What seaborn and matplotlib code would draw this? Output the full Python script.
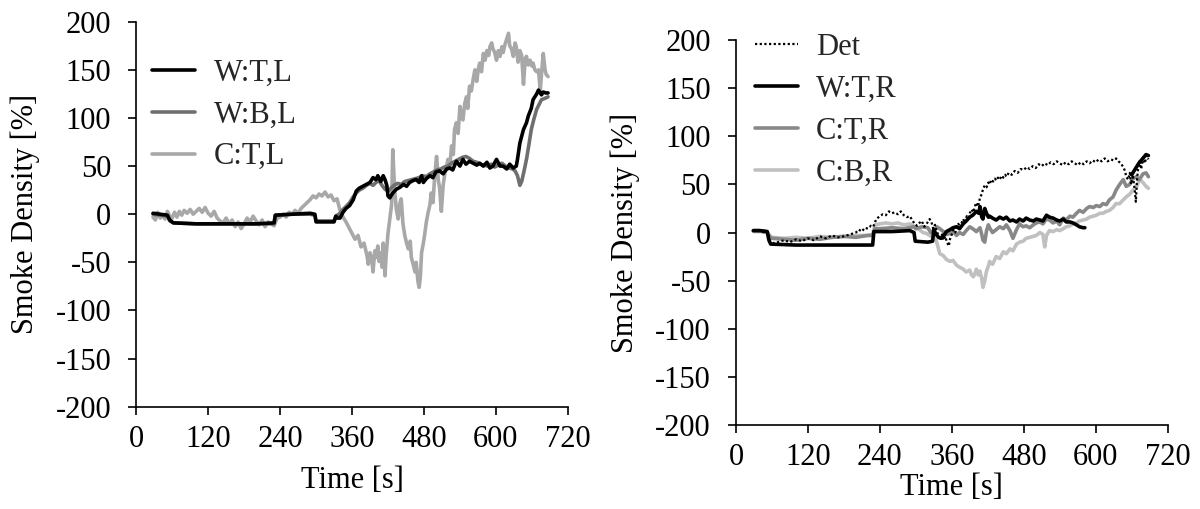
import matplotlib
matplotlib.use("Agg")
import matplotlib.pyplot as plt
import seaborn as sns

# ---------------- data: left panel (L side) ----------------
t_wtl = [28, 40, 52, 56, 62, 100, 150, 200, 230, 232,
         260, 290, 298, 300, 330, 333, 336, 340, 345, 350,
         356, 362, 367, 372, 378, 384, 390, 395, 400, 403,
         408, 412, 415, 418, 420, 423, 428, 434, 440, 446,
         451, 456, 462, 467, 472, 476, 479, 484, 490, 495,
         500, 506, 512, 518, 523, 528, 534, 540, 545, 550,
         556, 562, 568, 573, 579, 585, 590, 595, 601, 607,
         612, 618, 623, 629, 634, 636, 640, 646, 651, 654,
         659, 662, 668, 671, 676, 679, 683, 687]
v_wtl = [1, 0, -1, -6, -9, -10, -10, -10, -9, -1,
         0, 1, 0, -8, -8, -2, -4, -4, 2, 6,
         9, 15, 24, 27, 29, 31, 33, 38, 36, 40,
         34, 40, 36, 30, 19, 17, 22, 26, 28, 31,
         29, 33, 35, 36, 33, 40, 33, 37, 40, 38,
         44, 45, 42, 47, 48, 46, 55, 50, 57, 52,
         55, 53, 51, 53, 50, 54, 48, 50, 57, 50,
         50, 47, 52, 48, 50, 57, 74, 88, 95, 102,
         110, 119, 125, 129, 124, 127, 126, 126]

t_wbl = [28, 40, 52, 56, 62, 100, 150, 200, 230, 232,
         260, 290, 298, 300, 330, 333, 340, 345, 350, 356,
         362, 367, 372, 378, 384, 390, 395, 400, 405, 410,
         415, 420, 425, 430, 436, 442, 448, 454, 460, 466,
         472, 478, 484, 490, 496, 502, 508, 514, 520, 526,
         532, 538, 544, 550, 556, 562, 568, 574, 580, 586,
         592, 598, 604, 610, 616, 622, 628, 632, 636, 640,
         643, 647, 651, 655, 659, 663, 668, 672, 676, 680,
         684, 687]
v_wbl = [0, -1, -2, -7, -9, -10, -10, -10, -10, -1,
         0, 0, -1, -7, -7, -2, 1, 5, 8, 12,
         18, 22, 25, 27, 30, 32, 30, 33, 35, 30,
         26, 24, 27, 30, 32, 31, 34, 35, 36, 37,
         38, 40, 39, 42, 44, 46, 47, 49, 50, 53,
         55, 57, 59, 60, 58, 55, 54, 52, 51, 50,
         52, 49, 51, 53, 50, 48, 47, 45, 40, 30,
         34, 45, 57, 72, 88, 98, 109, 114, 119, 120,
         121, 122]

t_ctl = [28, 32, 36, 40, 44, 48, 52, 56, 60, 64,
         68, 72, 76, 80, 85, 90, 95, 100, 105, 110,
         115, 120, 125, 130, 135, 140, 145, 150, 155, 160,
         165, 170, 175, 180, 185, 190, 195, 200, 205, 210,
         215, 220, 225, 230, 235, 240, 245, 250, 255, 260,
         265, 270, 275, 280, 285, 290, 295, 300, 305, 310,
         315, 320, 325, 330, 335, 340, 345, 350, 355, 360,
         365, 370, 375, 380, 385, 387, 390, 393, 395, 398,
         400, 403, 405, 408, 410, 412, 415, 417, 420, 423,
         426, 428, 431, 434, 437, 440, 442, 445, 448, 451,
         454, 457, 459, 462, 465, 467, 470, 472, 474, 476,
         479, 481, 484, 487, 490, 492, 495, 498, 501, 504,
         506, 509, 512, 515, 518, 520, 523, 526, 529, 531,
         534, 537, 540, 543, 545, 548, 551, 553, 556, 559,
         562, 565, 568, 571, 573, 576, 579, 582, 585, 588,
         590, 593, 595, 598, 601, 604, 607, 610, 612, 615,
         618, 621, 623, 626, 629, 632, 634, 637, 640, 643,
         646, 649, 651, 654, 657, 660, 662, 665, 668, 671,
         674, 676, 679, 682, 684, 687]
v_ctl = [-3, -6, 2, -4, -1, -5, 3, -2, -4, 2,
         -3, 3, -1, 4, 1, 5, 0, 3, 6, 2,
         7, 1, -2, 3, -4, -7, -9, -4, -10, -6,
         -13, -8, -15, -10, -4, -8, -2, -7, -11, -6,
         -13, -8, -10, -12, -4, -3, 0, -3, 2, 0,
         4, 1, 6, 9, 12, 15, 19, 17, 21, 19,
         23, 18, 20, 14, 16, 4, -3, -8, -14, -20,
         -26, -22, -34, -30, -43, -52, -40, -47, -60, -38,
         -45, -33, -49, -40, -55, -30, -64, -42, -20, -5,
         10, 67, 25, 5, -5, 12, 16, -10, -22, -30,
         -36, -28, -45, -52, -60, -50, -70, -76, -65, -40,
         -30, -22, -8, 2, 10, 22, 12, 40, 60, 35,
         28, 3, 30, 43, 50, 57, 48, 71, 62, 88,
         95, 84, 112, 100, 98, 115, 122, 110, 133, 128,
         140, 150, 138, 152, 157, 148, 167, 160, 170, 165,
         174, 178, 172, 168, 160, 170, 164, 174, 168, 176,
         182, 188, 175, 172, 164, 178, 174, 158, 170, 165,
         135, 162, 164, 155, 160, 154, 157, 150, 148, 150,
         129, 145, 167, 150, 145, 143]

# ---------------- data: right panel (R side) ----------------
t_det = [29, 35, 41, 47, 53, 57, 62, 70, 80, 90,
         100, 110, 120, 130, 140, 150, 160, 170, 180, 190,
         200, 205, 210, 215, 220, 225, 229, 234, 240, 245,
         250, 255, 260, 265, 270, 275, 280, 285, 290, 295,
         298, 302, 306, 310, 314, 318, 323, 326, 329, 332,
         335, 338, 341, 344, 346, 349, 352, 355, 357, 360,
         363, 366, 368, 371, 374, 377, 379, 382, 385, 388,
         390, 393, 396, 399, 401, 404, 407, 410, 412, 415,
         418, 421, 423, 426, 429, 432, 434, 437, 440, 443,
         446, 449, 451, 455, 460, 465, 470, 475, 480, 485,
         490, 495, 500, 505, 510, 515, 520, 525, 530, 535,
         540, 545, 550, 555, 560, 565, 570, 575, 580, 585,
         590, 595, 600, 605, 610, 615, 620, 625, 630, 634,
         638, 642, 646, 649, 651, 654, 657, 659, 662, 665,
         667, 669, 671, 673, 676, 679, 682, 685, 688]
v_det = [2, 1, 2, 0, 1, -9, -11, -10, -8, -10,
         -7, -9, -6, -8, -4, -6, -3, -5, -4, -2,
         0, 3, 1, 5, 4, 7, 6, 14, 17, 19,
         18, 22, 20, 21, 19, 22, 18, 16, 17, 12,
         9, 7, 10, 12, 6, 9, 14, 11, 4, 8,
         1, -3, -6, -2, -8, -4, -10, -14, -7, -2,
         3, 0, 6, 9, 5, 11, 14, 10, 17, 15,
         20, 24, 21, 28, 31, 27, 36, 40, 45, 49,
         47, 52, 50, 55, 53, 56, 54, 57, 55, 59,
         57, 60, 58, 62, 60, 64, 62, 66, 65, 68,
         66, 69, 67, 71, 69, 72, 70, 73, 71, 74,
         72, 70, 73, 71, 74, 72, 70, 73, 71, 74,
         72, 75, 73, 76, 74, 77, 74, 76, 75, 77,
         74, 72, 68, 64, 58, 55, 62, 50, 60, 45,
         32, 55, 68, 74, 66, 78, 72, 80, 76]

t_wtr = [29, 40, 52, 55, 58, 100, 150, 200, 228, 230,
         260, 290, 297, 299, 320, 328, 330, 334, 338, 342,
         346, 351, 357, 362, 368, 373, 379, 384, 390, 395,
         401, 405, 407, 410, 412, 415, 418, 421, 423, 428,
         434, 440, 446, 451, 457, 462, 468, 473, 479, 484,
         490, 496, 501, 507, 512, 518, 523, 529, 535, 540,
         546, 551, 557, 562, 568, 573, 579, 582]
v_wtr = [2, 2, 1, -8, -12, -13, -13, -13, -13, 1,
         1, 2, 0, -9, -10, -9, 3, -2, -5, -6,
         -4, 1, 3, 5, 6, 4, 9, 12, 16, 18,
         22, 20, 27, 16, 14, 25, 20, 16, 17, 15,
         13, 16, 14, 16, 12, 13, 11, 14, 12, 15,
         13, 12, 14, 13, 12, 18, 16, 15, 13, 12,
         14, 11, 11, 10, 8, 6, 5, 5]
# late readings of the same sensor
t_wtr_late = [660, 664, 668, 672, 676, 680, 684, 688]
v_wtr_late = [60, 64, 68, 72, 75, 78, 81, 80]

t_ctr = [29, 40, 52, 56, 60, 80, 100, 120, 140, 160,
         180, 200, 220, 228, 232, 240, 260, 280, 297, 300,
         310, 320, 325, 330, 335, 340, 346, 351, 357, 362,
         368, 373, 379, 384, 390, 395, 401, 407, 410, 412,
         415, 418, 421, 423, 428, 434, 440, 446, 451, 457,
         462, 468, 473, 479, 484, 490, 496, 501, 507, 512,
         518, 523, 529, 535, 540, 546, 551, 557, 562, 568,
         573, 579, 585, 590, 596, 601, 607, 612, 618, 623,
         629, 634, 640, 646, 651, 657, 662, 668, 673, 679,
         684, 688]
v_ctr = [2, 2, 1, -4, -6, -7, -8, -6, -7, -5,
         -4, -5, -3, -3, 4, 4, 5, 4, 6, 4,
         6, 5, 0, 2, 6, 4, 1, -2, -1, 1,
         -3, 0, -2, 2, 6, 4, 1, 5, -2, -8,
         -10, 2, 8, 5, 0, 3, 6, 4, 8, 2,
         -6, 3, 9, 6, 7, 5, 8, 10, 11, 9,
         14, 13, 10, 12, 8, 15, 13, 17, 16, 20,
         23, 21, 25, 27, 26, 28, 27, 30, 29, 34,
         37, 44, 50, 55, 48, 50, 56, 58, 55, 61,
         62, 58]

t_cbr = [29, 40, 52, 56, 60, 80, 100, 120, 140, 160,
         180, 200, 220, 228, 232, 240, 250, 260, 270, 280,
         290, 296, 300, 306, 312, 318, 323, 329, 334, 337,
         340, 346, 351, 357, 362, 368, 373, 379, 384, 390,
         393, 396, 399, 401, 404, 407, 410, 412, 415, 418,
         421, 423, 428, 434, 440, 446, 451, 457, 462, 468,
         473, 479, 484, 490, 496, 501, 507, 512, 515, 518,
         523, 529, 535, 540, 546, 551, 557, 562, 568, 573,
         579, 585, 590, 596, 601, 607, 612, 618, 623, 629,
         634, 640, 646, 651, 657, 662, 668, 673, 679, 684,
         688]
v_cbr = [1, 1, 0, -3, -5, -6, -5, -6, -4, -5,
         -4, -3, -3, -2, 8, 9, 10, 9, 10, 8,
         9, 7, 5, 3, 0, -1, -3, -5, -8, -15,
         -22, -24, -28, -30, -29, -34, -36, -38, -41, -39,
         -44, -46, -42, -38, -44, -40, -48, -57, -50, -40,
         -35, -30, -33, -25, -27, -20, -22, -17, -19, -12,
         -10, -9, -6, -5, -4, -3, 0, -2, -15, -3,
         2, 1, 3, 2, 4, 6, 7, 9, 10, 12,
         13, 14, 16, 17, 18, 20, 20, 22, 23, 26,
         30, 30, 34, 37, 40, 44, 47, 55, 52, 48,
         46]

x_ticks = [0, 120, 240, 360, 480, 600, 720]
y_ticks = [-200, -150, -100, -50, 0, 50, 100, 150, 200]

# ---------------- styling ----------------
sns.set_theme(style="ticks")
plt.rcParams["font.family"] = ["Liberation Serif", "DejaVu Serif"]
plt.rcParams["axes.linewidth"] = 1.2
FS = 22

fig = plt.figure(figsize=(12, 5.09), dpi=100)
ax_l = fig.add_axes([0.1135, 0.201, 0.3597, 0.7563])
ax_r = fig.add_axes([0.6133, 0.165, 0.3597, 0.7563])

LW = 2.6
c_black = "#000000"
c_dark = "#6f6f6f"
c_mid = "#888888"
c_light = "#a8a8a8"
c_pale = "#c0c0c0"

# left panel
sns.lineplot(x=t_ctl, y=v_ctl, ax=ax_l, color=c_light, linewidth=LW, label="C:T,L")
sns.lineplot(x=t_wbl, y=v_wbl, ax=ax_l, color=c_dark, linewidth=LW, label="W:B,L")
sns.lineplot(x=t_wtl, y=v_wtl, ax=ax_l, color=c_black, linewidth=LW, label="W:T,L")

# right panel
sns.lineplot(x=t_cbr, y=v_cbr, ax=ax_r, color=c_pale, linewidth=LW, label="C:B,R")
sns.lineplot(x=t_ctr, y=v_ctr, ax=ax_r, color=c_mid, linewidth=LW, label="C:T,R")
sns.lineplot(x=t_wtr, y=v_wtr, ax=ax_r, color=c_black, linewidth=LW, label="W:T,R")
sns.lineplot(x=t_wtr_late, y=v_wtr_late, ax=ax_r, color=c_black, linewidth=LW)
sns.lineplot(x=t_det, y=v_det, ax=ax_r, color=c_black, linewidth=1.6,
             linestyle=(0, (1, 1.1)), label="Det")

for ax in (ax_l, ax_r):
    ax.set_xlim(0, 720)
    ax.set_ylim(-200, 200)
    ax.set_xticks(x_ticks)
    ax.set_yticks(y_ticks)
    ax.set_xticklabels([str(v) for v in x_ticks], fontsize=FS)
    ax.set_yticklabels([str(v) for v in y_ticks], fontsize=FS)
    ax.tick_params(axis="both", direction="out", length=6, width=1.2,
                   color="black", labelcolor="black")
    ax.tick_params(axis="y", pad=12)
    ax.tick_params(axis="x", pad=7)
    for side in ("top", "right"):
        ax.spines[side].set_visible(False)
    for side in ("left", "bottom"):
        ax.spines[side].set_color("black")
    ax.set_xlabel("Time [s]", fontsize=FS, color="black")
    ax.set_ylabel("Smoke Density [%]", fontsize=FS, color="black")
    ax.patch.set_alpha(0)

ax_l.yaxis.set_label_coords(-0.224, 0.5)
ax_l.xaxis.set_label_coords(0.5, -0.155)
ax_r.yaxis.set_label_coords(-0.222, 0.5)
ax_r.xaxis.set_label_coords(0.5, -0.124)


def ordered_legend(ax, order, anchor):
    handles, labels = ax.get_legend_handles_labels()
    lookup = dict(zip(labels, handles))
    ax.legend([lookup[k] for k in order], order, loc="upper left",
              bbox_to_anchor=anchor, bbox_transform=fig.transFigure,
              frameon=False, fontsize=FS, handlelength=1.4,
              handletextpad=0.6, labelspacing=0.42, borderpad=0,
              borderaxespad=0)


ordered_legend(ax_l, ["W:T,L", "W:B,L", "C:T,L"], (0.127, 0.885))
ordered_legend(ax_r, ["Det", "W:T,R", "C:T,R", "C:B,R"], (0.629, 0.935))

fig.savefig("out.png", dpi=100)
